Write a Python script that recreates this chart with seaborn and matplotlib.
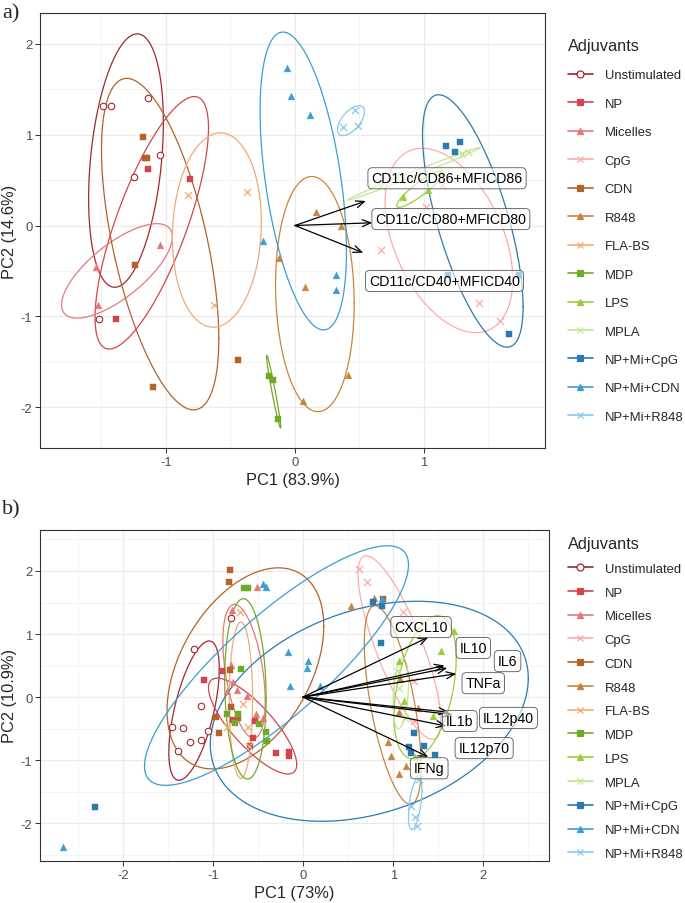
import numpy as np
import pandas as pd
import matplotlib
matplotlib.use("Agg")
import matplotlib.pyplot as plt
from matplotlib.lines import Line2D
import seaborn as sns

# groups, colours, shapes (shared by both panels)
groups = ["Unstimulated", "NP", "Micelles", "CpG", "CDN", "R848", "FLA-BS",
          "MDP", "LPS", "MPLA", "NP+Mi+CpG", "NP+Mi+CDN", "NP+Mi+R848"]
colors = ["#A0282E", "#D2464B", "#E8777A", "#FFAAAA", "#B3632A", "#C8843E", "#F0AA78",
          "#72AA28", "#9ACD3A", "#C0E890", "#2A7AB0", "#3A9ED2", "#88C8EA"]
shapes = ["o", "s", "^", "x", "s", "^", "x", "s", "^", "x", "s", "^", "x"]

# ---- panel a) scores ----
a_group = (["Unstimulated"] * 6 + ["NP"] * 3 + ["Micelles"] * 3 + ["CpG"] * 5 + ["CDN"] * 6
           + ["R848"] * 6 + ["FLA-BS"] * 3 + ["MDP"] * 3 + ["LPS"] * 3 + ["MPLA"] * 3
           + ["NP+Mi+CpG"] * 6 + ["NP+Mi+CDN"] * 6 + ["NP+Mi+R848"] * 3)
a_pc1 = [-1.49, -1.43, -1.14, -1.05, -1.25, -1.52,
         -1.14, -0.81, -1.39,
         -1.05, -1.54, -1.53,
         1.02, 1.14, 0.67, 1.43, 1.59,
         -1.18, -1.16, -1.15, -1.24, -1.10, -0.44,
         -0.12, 0.16, 0.36, 0.08, 0.41, 0.06,
         -0.83, -0.37, -0.63,
         -0.20, -0.17, -0.13,
         1.13, 1.03, 0.84,
         0.67, 1.30, 1.34,
         1.17, 1.28, 1.24, 1.19, 1.74, 1.66,
         -0.06, -0.03, 0.12, -0.25, 0.32, 0.32,
         0.47, 0.37, 0.49]
a_pc2 = [1.32, 1.32, 1.40, 0.78, 0.53, -1.03,
         0.62, 0.51, -1.03,
         -0.21, -0.46, -0.88,
         0.20, 0.45, -0.27, -0.85, -1.05,
         0.98, 0.74, 0.74, -0.44, -1.78, -1.48,
         -0.36, 0.15, 0.00, -0.68, -1.65, -1.93,
         0.34, 0.37, -0.88,
         -1.66, -1.70, -2.13,
         0.59, 0.39, 0.31,
         0.43, 0.79, 0.81,
         0.87, 0.92, 0.81, -0.55, -0.55, -1.19,
         1.73, 1.43, 1.22, -0.17, -0.55, -0.71,
         1.27, 1.09, 1.10]
# ellipse extents (x range, y range, correlation) per group
a_ell_x0 = [-1.60, -1.55, -1.81, 0.70, -1.50, -0.15, -0.95, -0.22, 0.79, 0.41, 0.99, -0.27, 0.33]
a_ell_x1 = [-1.02, -0.67, -0.95, 1.69, -0.59, 0.46, -0.26, -0.11, 1.15, 1.44, 1.77, 0.40, 0.54]
a_ell_y0 = [-0.68, -1.36, -1.02, -1.18, -2.03, -2.05, -1.12, -2.23, 0.20, 0.28, -1.34, -1.15, 0.99]
a_ell_y1 = [2.11, 1.42, 0.02, 0.85, 1.62, 0.54, 1.02, -1.43, 0.60, 0.86, 1.44, 2.13, 1.32]
a_ell_r = [0.30, 0.75, 0.72, -0.42, -0.57, -0.08, 0.08, -0.97, 0.90, 0.995, -0.68, -0.47, 0.60]
# loadings
a_vars = ["CD11c/CD86+MFICD86", "CD11c/CD80+MFICD80", "CD11c/CD40+MFICD40"]
a_vx = [0.55, 0.60, 0.53]
a_vy = [0.27, 0.03, -0.30]
a_lx = [1.18, 1.21, 1.16]
a_ly = [0.52, 0.07, -0.61]

# ---- panel b) scores ----
b_group = (["Unstimulated"] * 9 + ["NP"] * 9 + ["Micelles"] * 9 + ["CpG"] * 5 + ["CDN"] * 8
           + ["R848"] * 9 + ["FLA-BS"] * 5 + ["MDP"] * 9 + ["LPS"] * 6 + ["MPLA"] * 4
           + ["NP+Mi+CpG"] * 9 + ["NP+Mi+CDN"] * 9 + ["NP+Mi+R848"] * 4)
b_pc1 = [-1.13, -1.46, -1.33, -1.25, -1.13, -1.05, -1.39, -1.21, -0.80,
         -0.90, -1.10, -0.56, -0.59, -0.53, -0.30, -0.16, -0.16, -0.78,
         -0.78, -0.84, -0.73, -0.62, -0.52, -0.45, -0.79, -0.51, -0.80,
         0.62, 0.71, 1.11, 1.23, 1.23,
         -0.81, -0.82, -0.81, -0.80, -0.97, -0.93, -0.72, 0.89,
         0.53, 0.79, 0.94, 0.98, 1.07, 1.14, 1.08, 1.07, 1.28,
         -0.67, -0.61, -0.84, -0.60, -0.70,
         -0.69, -0.66, -0.61, -0.84, -0.72, -0.76, -0.49, -0.41, -0.40,
         1.67, 1.53, 1.06, 1.12, 1.44, 1.24,
         1.04, 1.07, 1.11, 1.13,
         -2.31, 0.78, 0.88, 0.87, 1.23, 1.18, 1.20, 1.34, 1.47,
         -2.66, -0.14, -0.44, -0.41, -0.17, 0.06, 0.04, 0.19, 0.88,
         1.29, 1.20, 1.24, 1.26]
b_pc2 = [-0.14, -0.47, -0.49, -0.72, -0.68, -0.54, -0.86, 0.76, 1.25,
         0.41, 0.27, -0.65, -0.78, -0.38, -0.89, -0.87, -0.93, -0.37,
         0.24, 0.10, 0.11, 0.02, -0.27, -0.33, 1.38, 1.75, 0.51,
         2.03, 1.83, 1.35, 0.25, -0.38,
         2.02, 1.83, 0.43, -0.16, -0.31, -0.57, -0.33, 1.56,
         1.45, 1.57, -0.71, -0.93, -1.22, -1.10, 0.29, -0.24, -0.18,
         -0.11, -0.48, -0.48, -0.78, 1.35,
         0.44, 1.73, 1.73, -0.27, -0.27, -0.41, -0.43, -0.55, -0.69,
         1.05, 0.73, 0.57, -0.06, -0.30, -0.95,
         0.42, 0.15, -0.15, -0.33,
         -1.75, 1.51, 1.45, 0.86, -0.57, -0.79, -0.89, -0.78, -0.92,
         -2.38, 0.17, 1.79, 1.75, 0.71, 0.57, 0.46, 0.17, 1.55,
         -1.30, -1.73, -1.90, -2.05]
b_ell_x0 = [-1.49, -1.05, -0.89, 0.61, -1.51, 0.68, -0.82, -0.87, 1.01, 1.00, -1.03, -1.76, 1.17]
b_ell_x1 = [-0.93, -0.07, -0.42, 1.53, 0.23, 1.31, -0.56, -0.41, 1.70, 1.17, 2.50, 1.17, 1.32]
b_ell_y0 = [-1.32, -1.22, -0.65, -0.67, -1.14, -1.70, -1.29, -1.30, -0.98, -0.50, -1.97, -1.40, -2.10]
b_ell_y1 = [0.89, 0.30, 1.47, 2.24, 2.05, 1.45, 1.19, 1.56, 1.29, 0.62, 1.52, 2.40, -1.27]
b_ell_r = [0.60, -0.80, -0.45, -0.80, 0.42, -0.62, 0.00, -0.10, 0.40, 0.30, 0.30, 0.84, 0.50]
b_vars = ["CXCL10", "IL10", "IL6", "TNFa", "IL1b", "IL12p40", "IL12p70", "IFNg"]
b_vx = [1.39, 1.57, 1.60, 1.70, 1.62, 1.66, 1.59, 1.39]
b_vy = [0.95, 0.50, 0.46, 0.37, -0.24, -0.28, -0.46, -0.95]
b_lx = [1.31, 1.89, 2.27, 2.00, 1.74, 2.28, 2.01, 1.40]
b_ly = [1.11, 0.78, 0.57, 0.22, -0.38, -0.33, -0.81, -1.13]

sns.set_style("whitegrid", {"grid.color": "#EBEBEB", "axes.edgecolor": "#333333"})
plt.rcParams["font.family"] = ["Liberation Sans", "DejaVu Sans"]
plt.rcParams["axes.unicode_minus"] = False

fig = plt.figure(figsize=(6.85, 9.04), dpi=100)
W, H = 685, 904


def draw_panel(ax, df, ex0, ex1, ey0, ey1, er, vars_, vx, vy, lx, ly):
    # ellipses
    t = np.linspace(0, 2 * np.pi, 300)
    for i, g in enumerate(groups):
        cx, sx = (ex0[i] + ex1[i]) / 2, (ex1[i] - ex0[i]) / 2
        cy, sy = (ey0[i] + ey1[i]) / 2, (ey1[i] - ey0[i]) / 2
        ph = np.arccos(er[i])
        ax.plot(cx + sx * np.cos(t), cy + sy * np.cos(t - ph), color=colors[i], lw=0.9, zorder=2)
    # points
    for i, g in enumerate(groups):
        sub = df[df.group == g]
        if shapes[i] == "o":
            sns.scatterplot(data=sub, x="pc1", y="pc2", ax=ax, marker="o", color="white",
                            edgecolor=colors[i], linewidth=0.8, s=22, zorder=3)
        elif shapes[i] == "x":
            sns.scatterplot(data=sub, x="pc1", y="pc2", ax=ax, marker="x", color=colors[i],
                            linewidth=0.9, s=26, zorder=3)
        else:
            sns.scatterplot(data=sub, x="pc1", y="pc2", ax=ax, marker=shapes[i], color=colors[i],
                            edgecolor=colors[i], linewidth=0.3, s=24, zorder=3)
    # loadings
    for v, x, y in zip(vars_, vx, vy):
        ax.annotate("", xy=(x, y), xytext=(0, 0),
                    arrowprops=dict(arrowstyle="->,head_length=0.6,head_width=0.25",
                                    color="black", lw=0.9, shrinkA=0, shrinkB=0), zorder=4)
    for v, x, y in zip(vars_, lx, ly):
        ax.text(x, y, v, ha="center", va="center", fontsize=10.2, color="black", zorder=5,
                bbox=dict(boxstyle="round,pad=0.25,rounding_size=0.3", fc=(1, 1, 1, 0.6),
                          ec="#555555", lw=0.6))
    ax.tick_params(axis="both", which="major", length=3.5, width=0.7, color="#333333",
                   labelsize=9.4, labelcolor="#4D4D4D", pad=2, bottom=True, left=True)
    ax.tick_params(axis="both", which="minor", length=0)
    ax.grid(which="major", color="#EBEBEB", lw=0.9)
    ax.grid(which="minor", color="#F3F3F3", lw=0.6)
    ax.set_axisbelow(True)
    for sp in ax.spines.values():
        sp.set_color("#333333")
        sp.set_linewidth(0.8)


def legend_handles():
    hs = []
    for c, m in zip(colors, shapes):
        hs.append(Line2D([0], [0], color=c, lw=1.2, marker=m, markersize=5,
                         markerfacecolor=("white" if m == "o" else c),
                         markeredgecolor=c, markeredgewidth=0.9))
    return hs


# panel a
df_a = pd.DataFrame({"group": a_group, "pc1": a_pc1, "pc2": a_pc2})
ax1 = fig.add_axes([40 / W, (H - 449) / H, 505 / W, 435 / H])
draw_panel(ax1, df_a, a_ell_x0, a_ell_x1, a_ell_y0, a_ell_y1, a_ell_r,
           a_vars, a_vx, a_vy, a_lx, a_ly)
ax1.set_xlim(-1.977, 1.94)
ax1.set_ylim(-2.45, 2.34)
ax1.set_xticks([-1, 0, 1])
ax1.set_xticks([-1.5, -0.5, 0.5, 1.5], minor=True)
ax1.set_yticks([-2, -1, 0, 1, 2])
ax1.set_yticks([-1.5, -0.5, 0.5, 1.5], minor=True)
ax1.set_xlabel("PC1 (83.9%)", fontsize=11.8, labelpad=3)
ax1.set_ylabel("PC2 (14.6%)", fontsize=11.8, va="center")
ax1.yaxis.set_label_coords(-30 / 505, 0.5)

# panel b
df_b = pd.DataFrame({"group": b_group, "pc1": b_pc1, "pc2": b_pc2})
ax2 = fig.add_axes([40 / W, (H - 862) / H, 509 / W, 331 / H])
draw_panel(ax2, df_b, b_ell_x0, b_ell_x1, b_ell_y0, b_ell_y1, b_ell_r,
           b_vars, b_vx, b_vy, b_lx, b_ly)
ax2.set_xlim(-2.92, 2.73)
ax2.set_ylim(-2.6, 2.65)
ax2.set_xticks([-2, -1, 0, 1, 2])
ax2.set_xticks([-2.5, -1.5, -0.5, 0.5, 1.5, 2.5], minor=True)
ax2.set_yticks([-2, -1, 0, 1, 2])
ax2.set_yticks([-2.5, -1.5, -0.5, 0.5, 1.5, 2.5], minor=True)
ax2.set_xlabel("PC1 (73%)", fontsize=11.8, labelpad=3)
ax2.set_ylabel("PC2 (10.9%)", fontsize=11.8, va="center")
ax2.yaxis.set_label_coords(-30 / 509, 0.5)

# legends
fig.legend(legend_handles(), groups, title="Adjuvants", loc="upper left",
           bbox_to_anchor=(568 / W, 1 - 39 / H), frameon=False, fontsize=9.4,
           title_fontsize=11.8, labelspacing=1.25, handlelength=1.9, handletextpad=0.9,
           borderpad=0, borderaxespad=0, alignment="left")
fig.legend(legend_handles(), groups, title="Adjuvants", loc="upper left",
           bbox_to_anchor=(568 / W, 1 - 537 / H), frameon=False, fontsize=9.4,
           title_fontsize=11.8, labelspacing=0.89, handlelength=1.9, handletextpad=0.9,
           borderpad=0, borderaxespad=0, alignment="left")

fig.text(2 / W, 1 - 4 / H, "a)", fontsize=16, family=["Liberation Serif"], va="top", ha="left")
fig.text(2 / W, 1 - 500 / H, "b)", fontsize=16, family=["Liberation Serif"], va="top", ha="left")

fig.savefig("out.png", dpi=100)
